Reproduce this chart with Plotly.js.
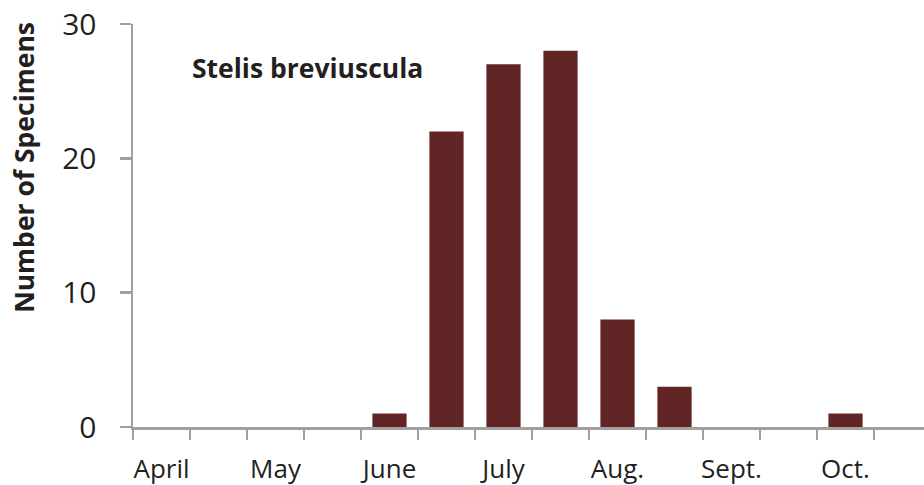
<!DOCTYPE html>
<html>
<head>
<meta charset="utf-8">
<script src="https://cdn.plot.ly/plotly-3.0.1.min.js"></script>
<style>html,body{margin:0;padding:0;background:#fff;}#chart{width:924px;height:485px;}</style>
</head>
<body>
<div id="chart"></div>
<script>
// Half-month periods (first / second half of each month)
const periods = ["Apr-1","Apr-2","May-1","May-2","Jun-1","Jun-2","Jul-1","Jul-2","Aug-1","Aug-2","Sep-1","Sep-2","Oct-1","Oct-2"];
const tickLabels = ["April","","May","","June","","July","","Aug.","","Sept.","","Oct.",""];
const specimens = [0,0,0,0,1,22,27,28,8,3,0,0,1,0];
const speciesName = "Stelis breviuscula";
const yTitle = "Number of Specimens";
const yTicks = [0,10,20,30];

const axisColor = "#a0a0a0";
const textColor = "#231f20";
const fontFam = "'Open Sans', sans-serif";

const trace = {
  type: "bar",
  x: periods,
  y: specimens,
  marker: {color: "#622526"},
  hoverinfo: "x+y"
};

const layout = {
  width: 924, height: 485,
  margin: {l: 133, r: 0, t: 24, b: 58},
  paper_bgcolor: "#fff", plot_bgcolor: "#fff",
  bargap: 0.4,
  showlegend: false,
  xaxis: {
    type: "category",
    range: [-0.5, 13.377],
    tickmode: "array",
    tickvals: periods,
    ticktext: tickLabels,
    tickson: "boundaries",
    tickangle: 0,
    ticks: "outside", ticklen: 10, tickwidth: 2.5, tickcolor: axisColor,
    showline: true, linecolor: axisColor, linewidth: 3,
    showgrid: false, zeroline: false,
    tickfont: {family: fontFam, size: 26, color: textColor},
    ticklabelstandoff: 17,
    automargin: false
  },
  yaxis: {
    range: [0, 30],
    tickmode: "array",
    tickvals: yTicks,
    ticks: "outside", ticklen: 11, tickwidth: 2.5, tickcolor: axisColor,
    showline: true, linecolor: axisColor, linewidth: 2.5,
    showgrid: false, zeroline: false,
    tickfont: {family: fontFam, size: 30, color: textColor},
    ticklabelstandoff: 17,
    automargin: false
  },
  annotations: [{
    xref: "paper", yref: "paper",
    x: 0.072, y: 0.891, xanchor: "left", yanchor: "middle",
    text: "<b>" + speciesName + "</b>",
    showarrow: false,
    font: {family: fontFam, size: 26.5, color: textColor}
  }, {
    xref: "paper", yref: "paper",
    x: -0.1378, y: 0.643, xanchor: "center", yanchor: "middle",
    textangle: -90,
    text: "<b>" + yTitle + "</b>",
    showarrow: false,
    font: {family: fontFam, size: 26.5, color: textColor}
  }]
};

Plotly.newPlot("chart", [trace], layout, {displayModeBar: false, staticPlot: true});
</script>
</body>
</html>
